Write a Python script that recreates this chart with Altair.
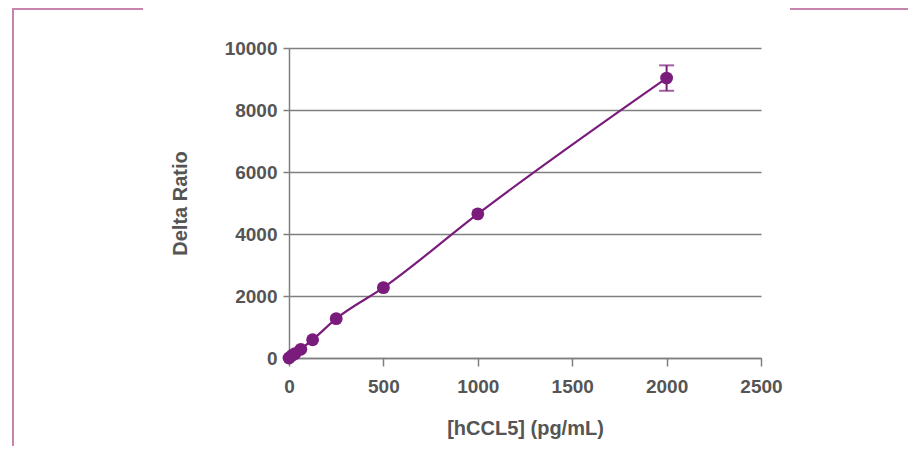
import altair as alt
import pandas as pd

# Data
conc = [0, 15.6, 31.25, 62.5, 125, 250, 500, 1000, 2000]
ratio = [0, 80, 140, 280, 590, 1270, 2270, 4650, 9030]
err = [0, 0, 0, 0, 0, 0, 0, 0, 410]

x_ticks = [0, 500, 1000, 1500, 2000, 2500]
y_ticks = [0, 2000, 4000, 6000, 8000, 10000]

df = pd.DataFrame({"conc": conc, "ratio": ratio, "err": err})
df["lo"] = df["ratio"] - df["err"]
df["hi"] = df["ratio"] + df["err"]

PURPLE = "#7a1c7c"
GREY_TXT = "#555555"
GREY_LINE = "#7f7f7f"
PINK = "#c785ae"
FONT = "Liberation Sans"

xs = alt.Scale(domain=[0, 2500], nice=False)
ys = alt.Scale(domain=[0, 10000], nice=False)

x_enc = alt.X("conc:Q", scale=xs, axis=alt.Axis(
    values=x_ticks, format="d", title="[hCCL5] (pg/mL)", grid=False,
    tickSize=8, labelPadding=11, titlePadding=22, labelFlush=False))
y_enc = alt.Y("ratio:Q", scale=ys, axis=alt.Axis(
    values=y_ticks, format="d", title="Delta Ratio", grid=True,
    tickSize=6, labelPadding=6, titlePadding=34))

base = alt.Chart(df)

line = base.mark_line(color=PURPLE, strokeWidth=2.2, interpolate="monotone").encode(x=x_enc, y=y_enc)
pts = base.mark_circle(color=PURPLE, size=165, opacity=1).encode(x=x_enc, y=y_enc)

eb = base.transform_filter(alt.datum.err > 0)
err_rule = eb.mark_rule(color=PURPLE, strokeWidth=2).encode(
    x="conc:Q", y=alt.Y("lo:Q"), y2="hi:Q")
cap_lo = eb.mark_tick(color=PURPLE, thickness=2, size=15, orient="horizontal").encode(
    x="conc:Q", y="lo:Q")
cap_hi = eb.mark_tick(color=PURPLE, thickness=2, size=15, orient="horizontal").encode(
    x="conc:Q", y="hi:Q")

one = alt.Chart(pd.DataFrame({"k": [0]}))
deco_left = one.mark_rule(color=PINK, strokeWidth=2).encode(
    x=alt.value(-276), y=alt.value(-40), y2=alt.value(400))
deco_top1 = one.mark_rule(color=PINK, strokeWidth=2).encode(
    x=alt.value(-277), x2=alt.value(-146), y=alt.value(-39))
deco_top2 = one.mark_rule(color=PINK, strokeWidth=2).encode(
    x=alt.value(501), x2=alt.value(640), y=alt.value(-39))

chart = alt.layer(
    deco_left, deco_top1, deco_top2, line, err_rule, cap_lo, cap_hi, pts
).properties(
    width=472, height=310,
    autosize=alt.AutoSizeParams(type="none"),
    padding={"left": 281, "top": 40, "right": 147, "bottom": 88},
).configure_view(stroke=None).configure_axis(
    domainColor=GREY_LINE, domainWidth=1.5,
    tickColor=GREY_LINE, tickWidth=1.5,
    gridColor=GREY_LINE, gridWidth=1.5,
    labelFont=FONT, labelFontSize=19, labelFontWeight="bold", labelColor=GREY_TXT,
    titleFont=FONT, titleFontSize=20, titleFontWeight="bold", titleColor=GREY_TXT,
)

chart.save("out.html", embed_options={"renderer": "svg", "actions": False})
